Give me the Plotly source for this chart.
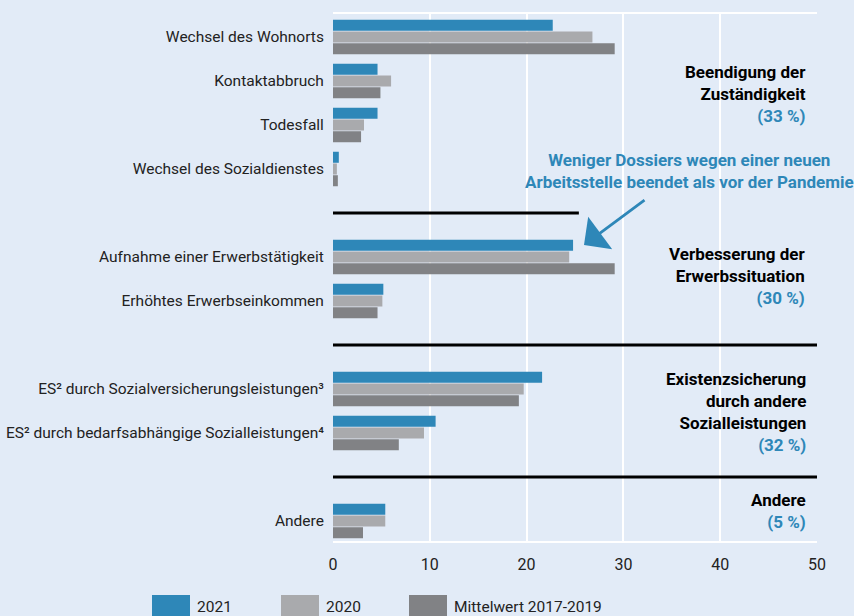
import plotly.graph_objects as go

# ---- data ----
categories = [
    "Wechsel des Wohnorts", "Kontaktabbruch", "Todesfall", "Wechsel des Sozialdienstes",
    "Aufnahme einer Erwerbstätigkeit", "Erhöhtes Erwerbseinkommen",
    "ES² durch Sozialversicherungsleistungen³", "ES² durch bedarfsabhängige Sozialleistungen⁴",
    "Andere",
]
series_names = ["2021", "2020", "Mittelwert 2017-2019"]
v2021 = [22.7, 4.6, 4.6, 0.6, 24.8, 5.2, 21.6, 10.6, 5.4]
v2020 = [26.8, 6.0, 3.2, 0.4, 24.4, 5.1, 19.7, 9.4, 5.4]
vmean = [29.1, 4.9, 2.9, 0.5, 29.1, 4.6, 19.2, 6.8, 3.1]
group_sizes = [4, 2, 2, 1]
group_titles = [
    "Beendigung der<br>Zuständigkeit", "Verbesserung der<br>Erwerbssituation",
    "Existenzsicherung<br>durch andere<br>Sozialleistungen", "Andere",
]
group_shares = ["(33 %)", "(30 %)", "(32 %)", "(5 %)"]
note_text = "Weniger Dossiers wegen einer neuen<br>Arbeitsstelle beendet als vor der Pandemie"
x_ticks = [0, 10, 20, 30, 40, 50]

# ---- style ----
BG = "#e2ebf7"
COLORS = ["#2e87b8", "#a9aaad", "#818285"]
BLUE = "#2e87b8"
FONT = "Roboto, Liberation Sans, sans-serif"
FS = 15.5
FS_BOLD = 17
W, H = 854, 616
L, R, T, B = 333, 37, 14, 75
plot_h = H - T - B
title_center_px = [94, 276, 412, 511]

positions = []
group_ranges = []
s = 0
for g in group_sizes:
    start = s
    for _ in range(g):
        positions.append(s)
        s += 1
    group_ranges.append((start, s - 1))
    s += 1

slot_px = 44
first_px = 37
y_top = (T - first_px) / slot_px
y_bot = (T + plot_h - first_px) / slot_px

def py_to_data(py):
    return (py - first_px) / slot_px

def py_to_paper(py):
    return (T + plot_h - py) / plot_h

def px_to_paper(px):
    return (px - L) / (W - L - R)

fig = go.Figure()
for name, vals, col in zip(series_names, [v2021, v2020, vmean], COLORS):
    fig.add_trace(go.Bar(
        y=positions, x=vals, orientation="h", name=name,
        marker=dict(color=col, line=dict(width=0)), showlegend=False,
        hoverinfo="x+name",
    ))

shapes = []
annotations = []
for i in range(len(group_ranges) - 1):
    ymid = (group_ranges[i][1] + group_ranges[i + 1][0]) / 2
    x1 = 25.4 if i == 0 else 50
    shapes.append(dict(type="line", xref="x", yref="y", x0=0, x1=x1, y0=ymid, y1=ymid,
                       line=dict(color="black", width=3), layer="above"))

for cpx, title, share in zip(title_center_px, group_titles, group_shares):
    annotations.append(dict(
        xref="paper", yref="y", x=px_to_paper(808), y=py_to_data(cpx), xanchor="right", yanchor="middle",
        text=f"<b>{title}<br><span style='color:{BLUE}'>{share}</span></b>",
        align="right", showarrow=False,
        font=dict(family=FONT, size=FS_BOLD, color="black"),
    ))

annotations.append(dict(
    xref="paper", yref="y", x=px_to_paper(689), y=py_to_data(171), xanchor="center", yanchor="middle",
    text=f"<b>{note_text}</b>", align="center", showarrow=False,
    font=dict(family=FONT, size=FS_BOLD, color=BLUE),
))
annotations.append(dict(
    xref="x", yref="y", x=(584 - L) / 9.68, y=py_to_data(245), ax=62, ay=-46,
    text="", showarrow=True, arrowhead=1, arrowsize=2.4, arrowwidth=2.8, arrowcolor=BLUE,
))

leg_x = [152, 281, 409]
for name, col, lx in zip(series_names, COLORS, leg_x):
    shapes.append(dict(type="rect", xref="paper", yref="paper",
                       x0=px_to_paper(lx), x1=px_to_paper(lx + 38),
                       y0=py_to_paper(617), y1=py_to_paper(595),
                       fillcolor=col, line=dict(width=0)))
    annotations.append(dict(xref="paper", yref="paper", x=px_to_paper(lx + 43), y=py_to_paper(607),
                            xanchor="left", yanchor="middle", text=name, showarrow=False,
                            font=dict(family=FONT, size=FS, color="#222222")))

fig.update_layout(
    width=W, height=H,
    margin=dict(l=L, r=R, t=T, b=B, pad=0, autoexpand=False),
    paper_bgcolor=BG, plot_bgcolor=BG,
    barmode="group", bargap=0.2, bargroupgap=0.06,
    font=dict(family=FONT, size=FS, color="#222222"),
    shapes=shapes, annotations=annotations,
    xaxis=dict(range=[0, 50], tickvals=x_ticks, showgrid=True, gridcolor="white", gridwidth=2,
               zeroline=False, showline=True, linecolor="white", linewidth=2, mirror=True,
               ticks="outside", ticklen=8, tickcolor=BG, fixedrange=True, automargin=False,
               tickfont=dict(family=FONT, size=16, color="#222222")),
    yaxis=dict(range=[y_bot, y_top], tickvals=positions, ticktext=categories, showgrid=False,
               zeroline=False, showline=False, ticks="outside", ticklen=5, tickcolor=BG,
               fixedrange=True, automargin=False, tickfont=dict(family=FONT, size=FS, color="#222222")),
)

post = "document.body.style.margin='0';document.documentElement.style.background='" + BG + "';"
fig.write_html("out.html", post_script=post, config={"displayModeBar": False})
